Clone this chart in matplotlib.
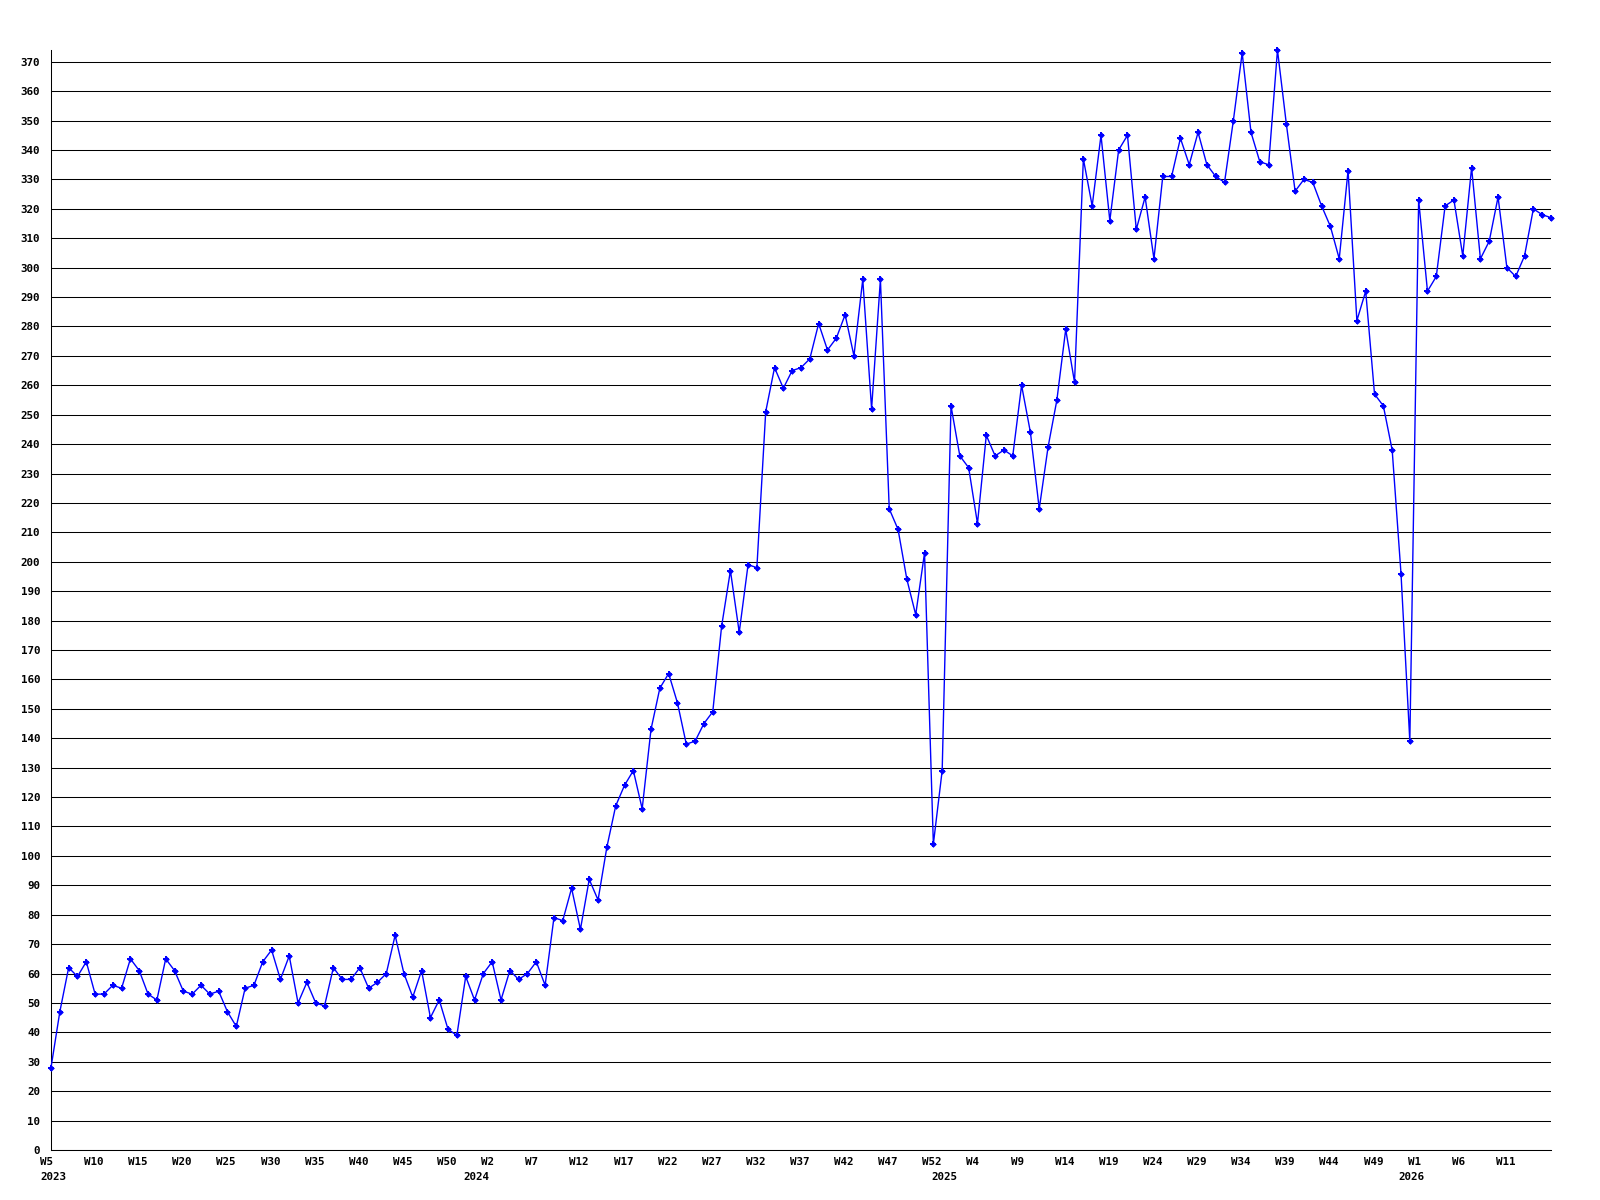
import matplotlib
matplotlib.use("Agg")
import matplotlib.pyplot as plt
import matplotlib.transforms as mtransforms

# ---- data ----
values = [
    28, 47, 62, 59, 64, 53, 53, 56, 55, 65, 61, 53, 51, 65, 61, 54, 53, 56, 53, 54,
    47, 42, 55, 56, 64, 68, 58, 66, 50, 57, 50, 49, 62, 58, 58, 62, 55, 57, 60, 73,
    60, 52, 61, 45, 51, 41, 39, 59, 51, 60, 64, 51, 61, 58, 60, 64, 56, 79, 78, 89,
    75, 92, 85, 103, 117, 124, 129, 116, 143, 157, 162, 152, 138, 139, 145, 149, 178, 197, 176, 199,
    198, 251, 266, 259, 265, 266, 269, 281, 272, 276, 284, 270, 296, 252, 296, 218, 211, 194, 182, 203,
    104, 129, 253, 236, 232, 213, 243, 236, 238, 236, 260, 244, 218, 239, 255, 279, 261, 337, 321, 345,
    316, 340, 345, 313, 324, 303, 331, 331, 344, 335, 346, 335, 331, 329, 350, 373, 346, 336, 335, 374,
    349, 326, 330, 329, 321, 314, 303, 333, 282, 292, 257, 253, 238, 196, 139, 323, 292, 297, 321, 323,
    304, 334, 303, 309, 324, 300, 297, 304, 320, 318, 317,
]
years = [2023, 2024, 2025, 2026]
first_week = [5, 0, 0, 0]
points_per_year = [48, 53, 53, 17]
y_ticks = list(range(0, 371, 10))

# build week / year labels per point
week_labels = []
year_start_idx = []
for yr, fw, n in zip(years, first_week, points_per_year):
    year_start_idx.append(len(week_labels))
    for k in range(n):
        week_labels.append(f"W{fw + k}")

x = list(range(len(values)))

# ---- figure ----
fig = plt.figure(figsize=(16, 12), dpi=100)
ax = fig.add_axes([51 / 1600, 1 - 1150 / 1200, 1500 / 1600, 1100 / 1200])

font = dict(family="DejaVu Sans Mono", weight="bold", size=7.8)

ax.plot(x, values, color="#0000ff", lw=1.0, clip_on=False, zorder=3)
ax.plot(x, values, linestyle="none", color="#0000ff", marker="D", markersize=3.4,
        markeredgewidth=0, clip_on=False, zorder=4)
ax.plot(x, values, linestyle="none", color="#0000ff", marker="P", markersize=4.2,
        markeredgewidth=0, clip_on=False, zorder=4)

ax.set_xlim(0, len(values) - 1)
ax.set_ylim(0, 374)
ax.set_yticks(y_ticks)
ax.set_yticklabels([str(v) for v in y_ticks], **font)
ax.tick_params(axis="y", length=0, pad=7.7)
ax.set_xticks([])
ax.grid(axis="y", color="black", lw=0.75)
ax.set_axisbelow(True)
for s in ["top", "right"]:
    ax.spines[s].set_visible(False)
ax.spines["left"].set_color("black")
ax.spines["left"].set_linewidth(0.75)
ax.spines["bottom"].set_color("black")
ax.spines["bottom"].set_linewidth(0.75)

# x labels: every 5th point (not at the right edge), left aligned slightly left of the point
base = mtransforms.blended_transform_factory(ax.transData, ax.transAxes)
off_w = base + mtransforms.ScaledTranslation(-11 / 100, -12 / 100, fig.dpi_scale_trans)
off_y = base + mtransforms.ScaledTranslation(-11 / 100, -27 / 100, fig.dpi_scale_trans)
for i in range(0, len(values) - 1, 5):
    ax.text(i, 0, week_labels[i], transform=off_w, ha="left", va="center", **font)
for yr, i in zip(years, year_start_idx):
    ax.text(i, 0, str(yr), transform=off_y, ha="left", va="center", **font)

fig.savefig("out.png", dpi=100)
